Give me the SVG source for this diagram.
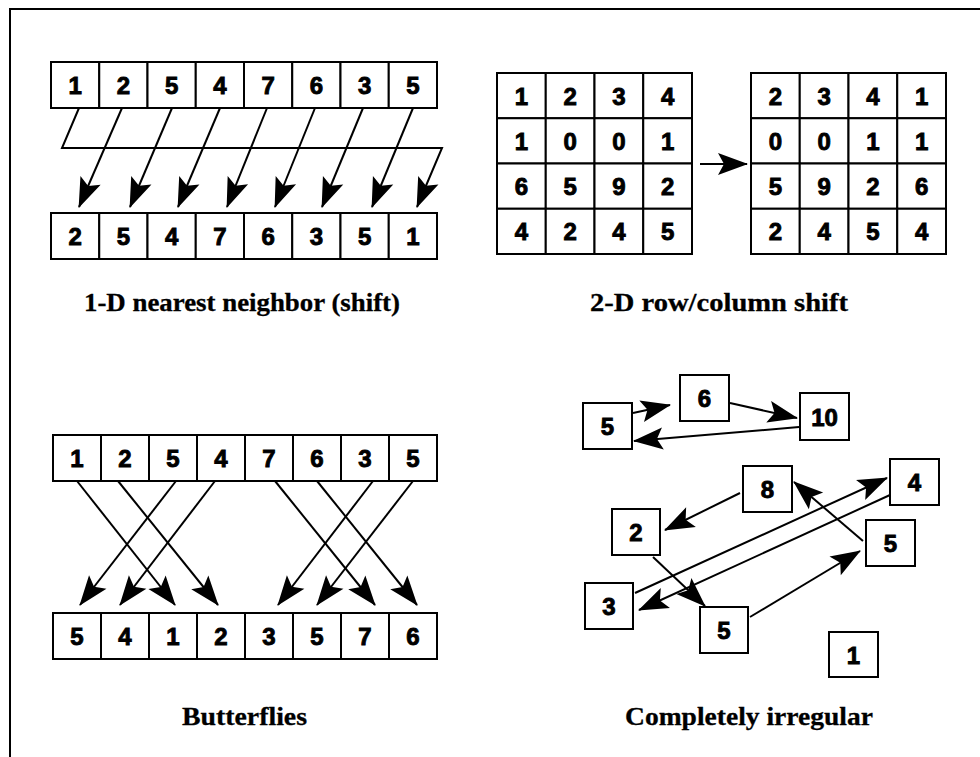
<svg xmlns="http://www.w3.org/2000/svg" width="980" height="757" viewBox="0 0 980 757">
<defs>
<style>
.c rect{fill:#fff;stroke:#000;stroke-width:2}
.c text{font-family:"Liberation Sans",Arial,sans-serif;font-weight:bold;font-size:24px;text-anchor:middle;fill:#000;stroke:#000;stroke-width:0.9}
.lbl{font-family:"Liberation Serif","Times New Roman",serif;font-weight:bold;font-size:26px;fill:#000;stroke:#000;stroke-width:0.3}
.e{fill:none;stroke:#000;stroke-width:2;marker-end:url(#ah)}
</style>
<marker id="ah" markerUnits="userSpaceOnUse" markerWidth="34" markerHeight="26" refX="29" refY="11" orient="auto" overflow="visible">
<path d="M0,0 L30,11 L0,22 L6,11 z" fill="#000"/>
</marker>
</defs>
<rect width="980" height="757" fill="#fff"/>
<path d="M10,757 L10,9 L980,9" fill="none" stroke="#000" stroke-width="2"/>

<!-- 1-D shift -->
<g id="shift-top" class="c">
<g id="s1"><rect x="51" y="62" width="48.25" height="46"/><text x="75.1" y="94">1</text></g>
<g id="s2"><rect x="99.25" y="62" width="48.25" height="46"/><text x="123.4" y="94">2</text></g>
<g id="s3"><rect x="147.5" y="62" width="48.25" height="46"/><text x="171.6" y="94">5</text></g>
<g id="s4"><rect x="195.75" y="62" width="48.25" height="46"/><text x="219.9" y="94">4</text></g>
<g id="s5"><rect x="244" y="62" width="48.25" height="46"/><text x="268.1" y="94">7</text></g>
<g id="s6"><rect x="292.25" y="62" width="48.25" height="46"/><text x="316.4" y="94">6</text></g>
<g id="s7"><rect x="340.5" y="62" width="48.25" height="46"/><text x="364.6" y="94">3</text></g>
<g id="s8"><rect x="388.75" y="62" width="48.25" height="46"/><text x="412.9" y="94">5</text></g>
</g>
<g id="shift-bottom" class="c">
<g id="t1"><rect x="51" y="213" width="48.25" height="46"/><text x="75.1" y="245">2</text></g>
<g id="t2"><rect x="99.25" y="213" width="48.25" height="46"/><text x="123.4" y="245">5</text></g>
<g id="t3"><rect x="147.5" y="213" width="48.25" height="46"/><text x="171.6" y="245">4</text></g>
<g id="t4"><rect x="195.75" y="213" width="48.25" height="46"/><text x="219.9" y="245">7</text></g>
<g id="t5"><rect x="244" y="213" width="48.25" height="46"/><text x="268.1" y="245">6</text></g>
<g id="t6"><rect x="292.25" y="213" width="48.25" height="46"/><text x="316.4" y="245">3</text></g>
<g id="t7"><rect x="340.5" y="213" width="48.25" height="46"/><text x="364.6" y="245">5</text></g>
<g id="t8"><rect x="388.75" y="213" width="48.25" height="46"/><text x="412.9" y="245">1</text></g>
</g>

<!-- 2-D grids -->
<g id="grid-a" class="c">
<g id="a11"><rect x="497" y="73" width="48.75" height="45.25"/><text x="521.4" y="104.6">1</text></g>
<g id="a12"><rect x="545.75" y="73" width="48.75" height="45.25"/><text x="570.1" y="104.6">2</text></g>
<g id="a13"><rect x="594.5" y="73" width="48.75" height="45.25"/><text x="618.9" y="104.6">3</text></g>
<g id="a14"><rect x="643.25" y="73" width="48.75" height="45.25"/><text x="667.6" y="104.6">4</text></g>
<g id="a21"><rect x="497" y="118.25" width="48.75" height="45.25"/><text x="521.4" y="149.9">1</text></g>
<g id="a22"><rect x="545.75" y="118.25" width="48.75" height="45.25"/><text x="570.1" y="149.9">0</text></g>
<g id="a23"><rect x="594.5" y="118.25" width="48.75" height="45.25"/><text x="618.9" y="149.9">0</text></g>
<g id="a24"><rect x="643.25" y="118.25" width="48.75" height="45.25"/><text x="667.6" y="149.9">1</text></g>
<g id="a31"><rect x="497" y="163.5" width="48.75" height="45.25"/><text x="521.4" y="195.1">6</text></g>
<g id="a32"><rect x="545.75" y="163.5" width="48.75" height="45.25"/><text x="570.1" y="195.1">5</text></g>
<g id="a33"><rect x="594.5" y="163.5" width="48.75" height="45.25"/><text x="618.9" y="195.1">9</text></g>
<g id="a34"><rect x="643.25" y="163.5" width="48.75" height="45.25"/><text x="667.6" y="195.1">2</text></g>
<g id="a41"><rect x="497" y="208.75" width="48.75" height="45.25"/><text x="521.4" y="240.4">4</text></g>
<g id="a42"><rect x="545.75" y="208.75" width="48.75" height="45.25"/><text x="570.1" y="240.4">2</text></g>
<g id="a43"><rect x="594.5" y="208.75" width="48.75" height="45.25"/><text x="618.9" y="240.4">4</text></g>
<g id="a44"><rect x="643.25" y="208.75" width="48.75" height="45.25"/><text x="667.6" y="240.4">5</text></g>
</g>
<g id="grid-b" class="c">
<g id="b11"><rect x="751" y="73" width="48.75" height="45.25"/><text x="775.4" y="104.6">2</text></g>
<g id="b12"><rect x="799.75" y="73" width="48.75" height="45.25"/><text x="824.1" y="104.6">3</text></g>
<g id="b13"><rect x="848.5" y="73" width="48.75" height="45.25"/><text x="872.9" y="104.6">4</text></g>
<g id="b14"><rect x="897.25" y="73" width="48.75" height="45.25"/><text x="921.6" y="104.6">1</text></g>
<g id="b21"><rect x="751" y="118.25" width="48.75" height="45.25"/><text x="775.4" y="149.9">0</text></g>
<g id="b22"><rect x="799.75" y="118.25" width="48.75" height="45.25"/><text x="824.1" y="149.9">0</text></g>
<g id="b23"><rect x="848.5" y="118.25" width="48.75" height="45.25"/><text x="872.9" y="149.9">1</text></g>
<g id="b24"><rect x="897.25" y="118.25" width="48.75" height="45.25"/><text x="921.6" y="149.9">1</text></g>
<g id="b31"><rect x="751" y="163.5" width="48.75" height="45.25"/><text x="775.4" y="195.1">5</text></g>
<g id="b32"><rect x="799.75" y="163.5" width="48.75" height="45.25"/><text x="824.1" y="195.1">9</text></g>
<g id="b33"><rect x="848.5" y="163.5" width="48.75" height="45.25"/><text x="872.9" y="195.1">2</text></g>
<g id="b34"><rect x="897.25" y="163.5" width="48.75" height="45.25"/><text x="921.6" y="195.1">6</text></g>
<g id="b41"><rect x="751" y="208.75" width="48.75" height="45.25"/><text x="775.4" y="240.4">2</text></g>
<g id="b42"><rect x="799.75" y="208.75" width="48.75" height="45.25"/><text x="824.1" y="240.4">4</text></g>
<g id="b43"><rect x="848.5" y="208.75" width="48.75" height="45.25"/><text x="872.9" y="240.4">5</text></g>
<g id="b44"><rect x="897.25" y="208.75" width="48.75" height="45.25"/><text x="921.6" y="240.4">4</text></g>
</g>

<!-- Butterflies -->
<g id="bf-top" class="c">
<g id="u1"><rect x="53" y="435" width="48" height="46"/><text x="77" y="467">1</text></g>
<g id="u2"><rect x="101" y="435" width="48" height="46"/><text x="125" y="467">2</text></g>
<g id="u3"><rect x="149" y="435" width="48" height="46"/><text x="173" y="467">5</text></g>
<g id="u4"><rect x="197" y="435" width="48" height="46"/><text x="221" y="467">4</text></g>
<g id="u5"><rect x="245" y="435" width="48" height="46"/><text x="269" y="467">7</text></g>
<g id="u6"><rect x="293" y="435" width="48" height="46"/><text x="317" y="467">6</text></g>
<g id="u7"><rect x="341" y="435" width="48" height="46"/><text x="365" y="467">3</text></g>
<g id="u8"><rect x="389" y="435" width="48" height="46"/><text x="413" y="467">5</text></g>
</g>
<g id="bf-bottom" class="c">
<g id="v1"><rect x="53" y="613" width="48" height="46"/><text x="77" y="645">5</text></g>
<g id="v2"><rect x="101" y="613" width="48" height="46"/><text x="125" y="645">4</text></g>
<g id="v3"><rect x="149" y="613" width="48" height="46"/><text x="173" y="645">1</text></g>
<g id="v4"><rect x="197" y="613" width="48" height="46"/><text x="221" y="645">2</text></g>
<g id="v5"><rect x="245" y="613" width="48" height="46"/><text x="269" y="645">3</text></g>
<g id="v6"><rect x="293" y="613" width="48" height="46"/><text x="317" y="645">5</text></g>
<g id="v7"><rect x="341" y="613" width="48" height="46"/><text x="365" y="645">7</text></g>
<g id="v8"><rect x="389" y="613" width="48" height="46"/><text x="413" y="645">6</text></g>
</g>

<!-- Irregular -->
<g id="irregular" class="c">
<g id="n5a"><rect x="583" y="403" width="49" height="46"/><text x="607.5" y="435">5</text></g>
<g id="n6"><rect x="680" y="375" width="49" height="46"/><text x="704.5" y="407">6</text></g>
<g id="n10"><rect x="800" y="393" width="49" height="47"/><text x="824.5" y="425.5">10</text></g>
<g id="n8"><rect x="743" y="466" width="49" height="46"/><text x="767.5" y="498">8</text></g>
<g id="n4"><rect x="890" y="459" width="49" height="46"/><text x="914.5" y="491">4</text></g>
<g id="n2"><rect x="612" y="509" width="48" height="46"/><text x="636" y="541">2</text></g>
<g id="n5b"><rect x="866" y="520" width="49" height="46"/><text x="890.5" y="552">5</text></g>
<g id="n3"><rect x="585" y="583" width="48" height="46"/><text x="609" y="615">3</text></g>
<g id="n5c"><rect x="700" y="607" width="48" height="46"/><text x="724" y="639">5</text></g>
<g id="n1"><rect x="829" y="632" width="49" height="45"/><text x="853.5" y="663.5">1</text></g>
</g>

<g id="connectors">
<path class="e" d="M79,108 L62,148 L442,148 L417,207"/>
<path class="e" d="M122,108 L79,207"/>
<path class="e" d="M172,108 L130,207"/>
<path class="e" d="M220,108 L178,207"/>
<path class="e" d="M267,108 L227,207"/>
<path class="e" d="M315,108 L275,207"/>
<path class="e" d="M363,108 L322,207"/>
<path class="e" d="M413,108 L372,207"/>

<path class="e" d="M700,164 L747,164"/>

<path class="e" d="M77,481 L175,605"/>
<path class="e" d="M118,481 L218,605"/>
<path class="e" d="M176,481 L80,605"/>
<path class="e" d="M215,481 L120,605"/>
<path class="e" d="M275,481 L375,605"/>
<path class="e" d="M317,481 L417,605"/>
<path class="e" d="M373,481 L278,605"/>
<path class="e" d="M413,481 L317,605"/>

<path class="e" d="M633,413 L670,405"/>
<path class="e" d="M730,403 L797,418"/>
<path class="e" d="M799,427 L634,441"/>
<path class="e" d="M740,493 L665,530"/>
<path class="e" d="M635,593 L887,478"/>
<path class="e" d="M890,495 L639,610"/>
<path class="e" d="M863,541 L794,482"/>
<path class="e" d="M653,557 L705,606"/>
<path class="e" d="M750,617 L860,551"/>
</g>

<text class="lbl" x="84" y="311" textLength="316" lengthAdjust="spacingAndGlyphs">1-D nearest neighbor (shift)</text>
<text class="lbl" x="590" y="311" textLength="258" lengthAdjust="spacingAndGlyphs">2-D row/column shift</text>
<text class="lbl" x="182" y="725" textLength="125" lengthAdjust="spacingAndGlyphs">Butterflies</text>
<text class="lbl" x="625" y="725" textLength="248" lengthAdjust="spacingAndGlyphs">Completely irregular</text>
</svg>
